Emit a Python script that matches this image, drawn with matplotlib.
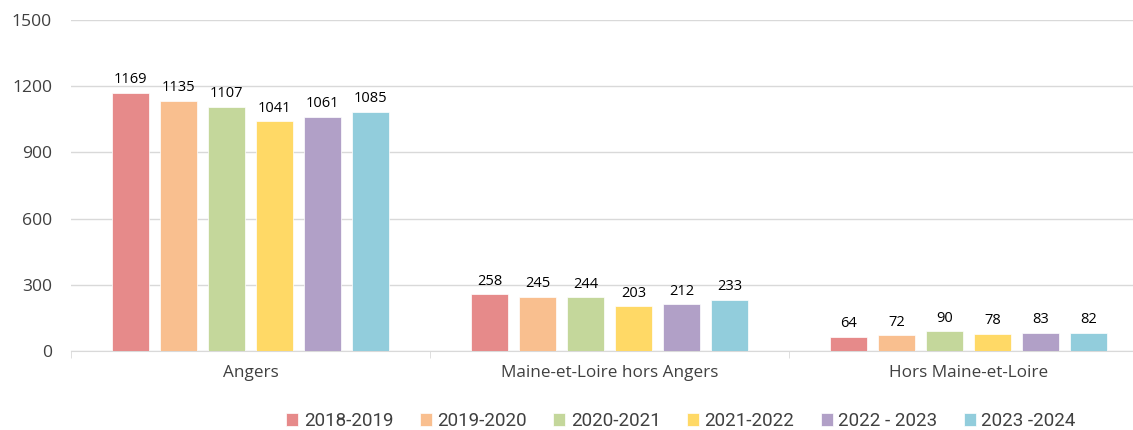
import numpy as np
import matplotlib.pyplot as plt

# Data
categories = ['Angers', 'Maine-et-Loire hors Angers', 'Hors Maine-et-Loire']
series = ['2018-2019', '2019-2020', '2020-2021', '2021-2022', '2022 - 2023', '2023 -2024']
values = [
    [1169, 258, 64],
    [1135, 245, 72],
    [1107, 244, 90],
    [1041, 203, 78],
    [1061, 212, 83],
    [1085, 233, 82],
]
colors = ['#E68A8A', '#F9BF8F', '#C4D79B', '#FFD966', '#B1A0C7', '#92CDDC']

plt.rcParams['font.family'] = ['Open Sans', 'DejaVu Sans']

fig = plt.figure(figsize=(11.33, 4.30), dpi=100)
ax = fig.add_axes([71/1133, 1-351/430, 1077/1133, 331/430])

x = np.arange(len(categories))
step = 0.1337
width = 0.103
for i, (name, vals) in enumerate(zip(series, values)):
    pos = x + (i - 2.5) * step
    bars = ax.bar(pos, vals, width, color=colors[i], label=name,
                  edgecolor='white', linewidth=0.5, zorder=3)
    for b, v in zip(bars, vals):
        ax.annotate(str(v), (b.get_x() + b.get_width()/2, v), xytext=(0, 4),
                    textcoords='offset points', ha='center', va='bottom',
                    fontsize=10.5, color='#000000')

ax.set_xlim(-0.5, 2.5)
ax.set_ylim(0, 1500)
ax.set_yticks([0, 300, 600, 900, 1200, 1500])
ax.grid(axis='y', color='#D9D9D9', linewidth=1, zorder=0)
ax.set_xticks(x)
ax.set_xticklabels(categories)
ax.set_xticks([-0.5, 0.5, 1.5, 2.5], minor=True)
ax.tick_params(axis='x', which='major', length=0, pad=10, labelsize=12.3, labelcolor='#404040')
ax.tick_params(axis='x', which='minor', length=5, color='#D9D9D9')
ax.tick_params(axis='y', length=0, pad=13.7, labelsize=12.6, labelcolor='#404040')
for s in ['top', 'right', 'left']:
    ax.spines[s].set_visible(False)
ax.spines['bottom'].set_color('#D9D9D9')

ax.legend(loc='center', bbox_to_anchor=(681/1133, 1-421/430), bbox_transform=fig.transFigure,
          ncol=6, frameon=False, prop={'family': ['Roboto', 'DejaVu Sans'], 'size': 13.5},
          handlelength=0.64, handleheight=0.64, handletextpad=0.3, columnspacing=1.4,
          labelcolor='#404040')

fig.savefig('out.png', dpi=100)
